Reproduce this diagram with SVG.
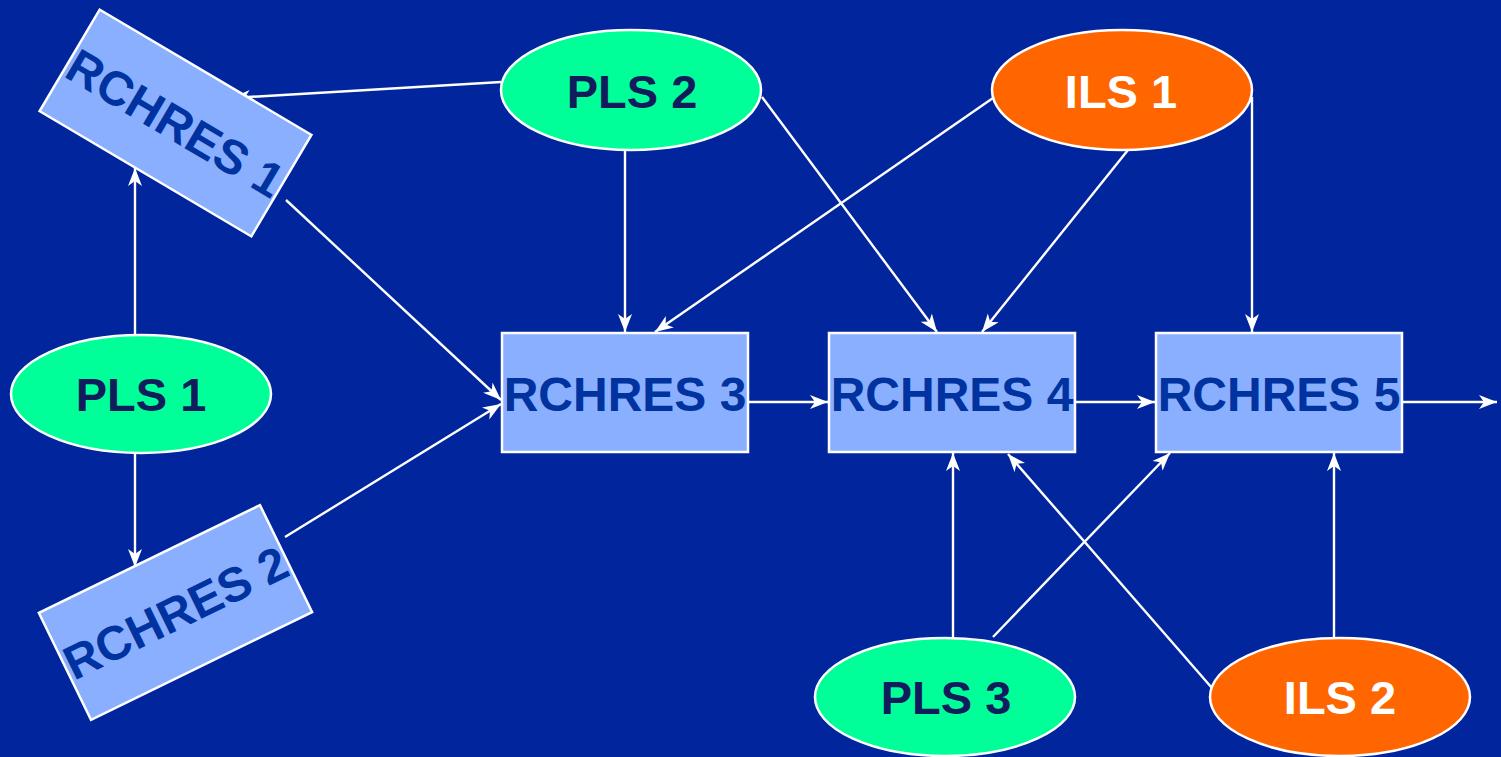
<svg xmlns="http://www.w3.org/2000/svg" width="1501" height="757" viewBox="0 0 1501 757">
<defs>
<marker id="arr" markerUnits="userSpaceOnUse" markerWidth="20" markerHeight="16" refX="18" refY="8" orient="auto">
<path d="M0,1 L18,8 L0,15 L5,8 z" fill="#FFFFFF"/>
</marker>
<style>
.box{fill:#8AAFFF;stroke:#FFFFFF;stroke-width:2.5}
.pls{fill:#00FF99;stroke:#FFFFFF;stroke-width:2.5}
.ils{fill:#FF6600;stroke:#FFFFFF;stroke-width:2.5}
.bt{font-family:"Liberation Sans",Arial,sans-serif;font-weight:bold;font-size:48px;fill:#0033A0;text-anchor:middle}
.pt{font-family:"Liberation Sans",Arial,sans-serif;font-weight:bold;font-size:47px;fill:#101C5C;text-anchor:middle}
.it{font-family:"Liberation Sans",Arial,sans-serif;font-weight:bold;font-size:47px;fill:#FFFFFF;text-anchor:middle}
.c{stroke:#FFFFFF;stroke-width:2.4;fill:none;marker-end:url(#arr)}
</style>
</defs>
<rect width="1501" height="757" fill="#00259D"/>
<g id="connectors">
<line class="c" x1="501" y1="82" x2="232" y2="98"/>
<line class="c" x1="135" y1="335" x2="135" y2="168"/>
<line class="c" x1="135" y1="453" x2="135" y2="567"/>
<line class="c" x1="286" y1="200" x2="501" y2="400"/>
<line class="c" x1="285" y1="537" x2="501" y2="404"/>
<line class="c" x1="625" y1="150" x2="625" y2="332"/>
<line class="c" x1="993" y1="98" x2="655" y2="332"/>
<line class="c" x1="762" y1="97" x2="937" y2="332"/>
<line class="c" x1="1128" y1="150" x2="982" y2="332"/>
<path class="c" d="M1252,97 L1252,332"/>
<line class="c" x1="748" y1="402" x2="828" y2="402"/>
<line class="c" x1="1075" y1="402" x2="1155" y2="402"/>
<line class="c" x1="1402" y1="402" x2="1497" y2="402"/>
<line class="c" x1="953" y1="638" x2="953" y2="453"/>
<line class="c" x1="993" y1="637" x2="1170" y2="453"/>
<line class="c" x1="1212" y1="688" x2="1008" y2="454"/>
<line class="c" x1="1334" y1="638" x2="1334" y2="453"/>
</g>
<g id="rchres1" transform="translate(175.5,123) rotate(30.6)">
<rect class="box" x="-123" y="-59" width="246" height="118"/>
<text class="bt" x="0" y="17">RCHRES 1</text>
</g>
<g id="rchres2" transform="translate(175.5,612.5) rotate(-26)">
<rect class="box" x="-123" y="-59.5" width="246" height="119"/>
<text class="bt" x="0" y="17">RCHRES 2</text>
</g>
<g id="rchres3">
<rect class="box" x="502" y="333" width="246" height="119"/>
<text class="bt" x="625" y="411">RCHRES 3</text>
</g>
<g id="rchres4">
<rect class="box" x="829" y="333" width="246" height="119"/>
<text class="bt" x="952" y="411">RCHRES 4</text>
</g>
<g id="rchres5">
<rect class="box" x="1156" y="333" width="246" height="119"/>
<text class="bt" x="1279" y="411">RCHRES 5</text>
</g>
<g id="pls1">
<ellipse class="pls" cx="141" cy="394" rx="130" ry="59"/>
<text class="pt" x="141" y="411">PLS 1</text>
</g>
<g id="pls2">
<ellipse class="pls" cx="631" cy="90" rx="130" ry="60"/>
<text class="pt" x="632" y="108">PLS 2</text>
</g>
<g id="pls3">
<ellipse class="pls" cx="945" cy="697" rx="130" ry="59"/>
<text class="pt" x="946" y="714">PLS 3</text>
</g>
<g id="ils1">
<ellipse class="ils" cx="1122" cy="90" rx="130" ry="60"/>
<text class="it" x="1121" y="108">ILS 1</text>
</g>
<g id="ils2">
<ellipse class="ils" cx="1340" cy="697" rx="130" ry="59"/>
<text class="it" x="1340" y="714">ILS 2</text>
</g>
</svg>
